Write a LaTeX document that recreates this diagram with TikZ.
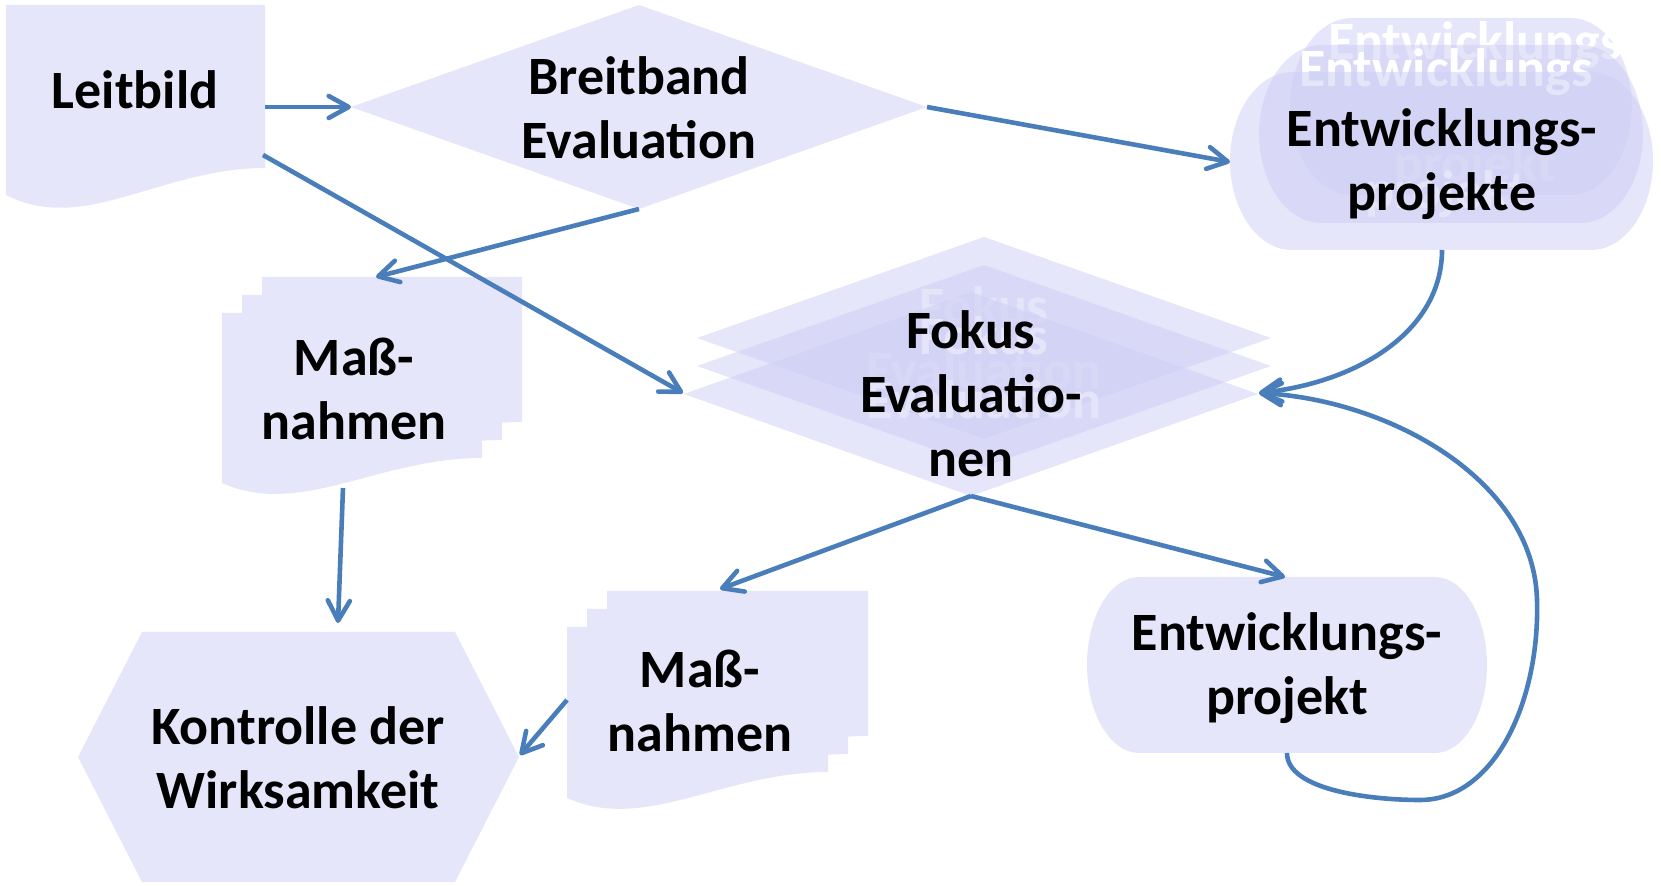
\documentclass[tikz,border=0pt]{standalone}
\usepackage{fontspec}
\setmainfont{Carlito}
\usetikzlibrary{arrows.meta}
\definecolor{lav}{RGB}{230,230,250}
\definecolor{lavdeep}{RGB}{205,205,245}
\definecolor{arrowblue}{RGB}{74,126,187}
\tikzset{
  lavfill/.style={fill=lav},
  layer/.style={fill=lavdeep, fill opacity=0.5},
  lbl/.style={font=\fontsize{27pt}{32pt}\selectfont\bfseries, align=center, inner sep=0pt, text=black},
  ghost/.style={lbl, text=white},
  conn/.style={draw=arrowblue, line width=2.3pt, -{Straight Barb[length=10pt,width=11pt,round]}},
}
\newcommand\stadshape[6]{%
  \pgfmathsetmacro\stadL{#2+#6}%
  \pgfmathsetmacro\stadR{#4-#6}%
  \pgfmathsetmacro\stadRy{(#5-#3)/2}%
  \fill[#1] (\stadL,#3) -- (\stadR,#3) arc[start angle=-90,end angle=90,x radius=#6,y radius=\stadRy]
    -- (\stadL,#5) arc[start angle=90,end angle=270,x radius=#6,y radius=\stadRy] -- cycle;}
\begin{document}
\begin{tikzpicture}[x=0.5pt,y=-0.5pt]
\useasboundingbox (0,0) rectangle (1661,886);

% ---------- Leitbild (document)
\fill[lavfill] (6,5) -- (265,5) -- (265,168) .. controls +(-104,0) and +(78,40) .. (6,195) -- cycle;
\node[lbl] (leit) at (135,90) {Leitbild};
\coordinate (leit-e) at (265,107);
\coordinate (leit-se) at (263,155);

% ---------- Breitband Evaluation (diamond)
\fill[lavfill] (351,107) -- (639,5) -- (927,107) -- (639,209) -- cycle;
\node[lbl] (bb) at (639,108) {Breitband\\Evaluation};
\coordinate (bb-w) at (351,107);
\coordinate (bb-e) at (927,107);
\coordinate (bb-s) at (639,209);

% ---------- Entwicklungsprojekte (stack)
\stadshape{layer}{1290}{18}{1632}{195}{62}
\node[ghost] (epg1) at (1475,106) {Entwicklungs\\[29pt]projekt};
\stadshape{layer}{1259}{45}{1643}{223}{62}
\node[ghost] (epg2) at (1446,133) {Entwicklungs\\[29pt]projekt};
\stadshape{layer}{1230}{72}{1653}{250}{62}
\node[lbl] (ep) at (1442,164) {Entwicklungs-\\projekte};
\coordinate (ep-w) at (1230,162);
\coordinate (ep-s) at (1442,250);

% ---------- Fokus Evaluationen (stack)
\fill[layer] (697,338) -- (984,237) -- (1271,338) -- (984,439) -- cycle;
\node[ghost] (fkg1) at (984,338) {Fokus\\Evaluation};
\fill[layer] (697,366) -- (984,265) -- (1271,366) -- (984,467) -- cycle;
\node[ghost] (fkg2) at (984,368) {Fokus\\Evaluation};
\fill[layer] (684,394) -- (971,292) -- (1258,394) -- (971,496) -- cycle;
\node[lbl] (fk) at (971,394) {Fokus\\Evaluatio-\\nen};
\coordinate (fk-w) at (683,393);
\coordinate (fk-e) at (1259,393);
\coordinate (fk-s) at (971,496);

% ---------- Massnahmen 1 (multi document)
\fill[lavfill] (262,277) -- (522,277) -- (522,422) .. controls +(-104,0) and +(78,35) .. (262,447) -- cycle;
\fill[lavfill] (242,295) -- (502,295) -- (502,440) .. controls +(-104,0) and +(78,35) .. (242,465) -- cycle;
\fill[lavfill] (222,313) -- (482,313) -- (482,458) .. controls +(-104,0) and +(78,35) .. (222,483) -- cycle;
\node[lbl] (m1) at (354,389) {Maß-\\nahmen};
\coordinate (m1-n) at (376,277);
\coordinate (m1-s) at (343,488);

% ---------- Massnahmen 2 (multi document)
\fill[lavfill] (607,591) -- (868,591) -- (868,736) .. controls +(-104,0) and +(78,35) .. (607,762) -- cycle;
\fill[lavfill] (587,609) -- (848,609) -- (848,754) .. controls +(-104,0) and +(78,35) .. (587,780) -- cycle;
\fill[lavfill] (567,627) -- (828,627) -- (828,772) .. controls +(-104,0) and +(78,35) .. (567,798) -- cycle;
\node[lbl] (m2) at (700,701) {Maß-\\nahmen};
\coordinate (m2-n) at (720,589);
\coordinate (m2-w) at (567,700);

% ---------- Entwicklungsprojekt (single)
\stadshape{lavfill}{1087}{577}{1487}{753}{52}
\node[lbl] (epj) at (1287,668) {Entwicklungs-\\projekt};
\coordinate (epj-n) at (1285,577);
\coordinate (epj-s) at (1287,753);

% ---------- Kontrolle der Wirksamkeit (hexagon)
\fill[lavfill] (142,632) -- (455,632) -- (519,757) -- (455,882) -- (142,882) -- (78,757) -- cycle;
\node[lbl] (ko) at (298,758) {Kontrolle der\\Wirksamkeit};
\coordinate (ko-n) at (338,623);
\coordinate (ko-e) at (520,755);

% ---------- connectors
\draw[conn] (leit-e) -- (bb-w);
\draw[conn] (leit-se) -- (fk-w);
\draw[conn] (bb-e) -- (ep-w);
\draw[conn] (bb-s) -- (m1-n);
\draw[conn] (ep-s) .. controls (1442,330) and (1360,382) .. (fk-e);
\draw[conn] (fk-s) -- (m2-n);
\draw[conn] (fk-s) -- (epj-n);
\draw[conn] (epj-s) .. controls (1287,790) and (1370,800) .. (1420,800)
  .. controls (1495,800) and (1540,700) .. (1537,600)
  .. controls (1534,480) and (1390,400) .. (fk-e);
\draw[conn] (m1-s) -- (ko-n);
\draw[conn] (m2-w) -- (ko-e);
\end{tikzpicture}
\end{document}
